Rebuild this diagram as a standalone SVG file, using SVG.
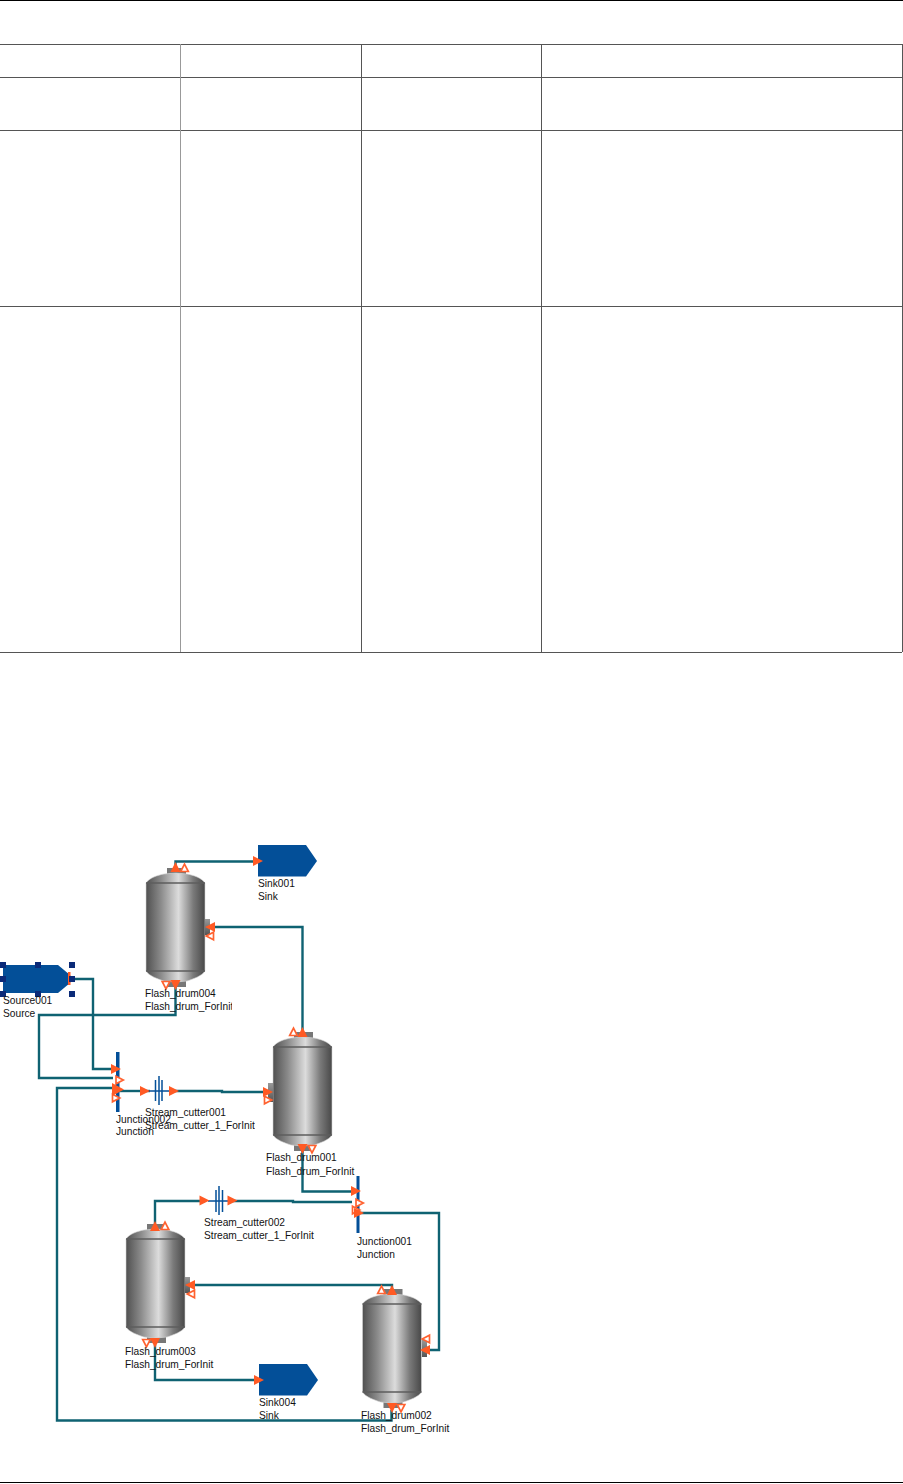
<svg xmlns="http://www.w3.org/2000/svg" width="903" height="1484" viewBox="0 0 903 1484">
<style>
.t{stroke:#555;stroke-width:1;fill:none;shape-rendering:crispEdges}
.c{fill:none;stroke:#0f6272;stroke-width:2.4;stroke-linejoin:miter}
.b{fill:#034f98}
.l{font-family:"Liberation Sans",Arial,sans-serif;font-size:10.2px;fill:#111}
.af{fill:#ff5a24;stroke:none}
.ah{fill:#fff;stroke:#ff6230;stroke-width:1.7}
.bar{fill:#034f98}
.cl{stroke:#034f98;stroke-width:1.5;fill:none}
.hd{fill:#0b2a78}
</style>
<defs>
<linearGradient id="g" x1="0" x2="1" y1="0" y2="0">
<stop offset="0" stop-color="#505050"/><stop offset=".25" stop-color="#8a8a8a"/><stop offset=".55" stop-color="#dcdcdc"/><stop offset=".8" stop-color="#7a7a7a"/><stop offset="1" stop-color="#484848"/>
</linearGradient>
<linearGradient id="gn" x1="0" x2="0" y1="0" y2="1">
<stop offset="0" stop-color="#999"/><stop offset="1" stop-color="#555"/>
</linearGradient>
<g id="drum">
<rect x="21" y="-5" width="19" height="6" fill="#777"/>
<rect x="21" y="108" width="19" height="6" fill="#777"/>
<path d="M0 10C3 5 12 2 18 1Q30 -1 41 1C47 2 56 5 59 10V98C56 103 47 106 41 108Q30 110 18 108C12 106 3 103 0 98Z" fill="url(#g)" stroke="#d5d5d5" stroke-width=".6"/>
<path d="M0 10H59M0 98H59" stroke="#5e5e5e" stroke-width="1.4"/>
</g>
<polygon id="af" class="af" points="-5,-5 5,0 -5,5"/>
<polygon id="ah" class="ah" points="-3.500,-3.800 3.800,0 -3.500,3.800"/>
<polygon id="sk" class="b" points="0,0 48,0 59,16 48,31.500 0,31.500"/>
<clipPath id="c1"><rect x="140" y="985" width="92" height="30"/></clipPath>
<clipPath id="c2"><rect x="140" y="1105" width="87" height="13"/></clipPath>
<clipPath id="c3"><rect x="140" y="1118" width="115" height="14"/></clipPath>
<clipPath id="c4"><rect x="200" y="1215" width="87" height="13"/></clipPath>
<clipPath id="c5"><rect x="200" y="1228" width="115" height="14"/></clipPath>
<clipPath id="c6"><rect x="355" y="1408" width="95" height="30"/></clipPath>
<clipPath id="c7"><rect x="120" y="1345" width="94" height="30"/></clipPath>
</defs>
<rect width="903" height="1484" fill="#fff"/>

<g id="table">
<path class="t" style="stroke:#000" d="M0 .5H903"/>
<path class="t" style="stroke:#000" d="M0 1482.500H903"/>
<path class="t" d="M0 44.500H902M0 77.500H902M0 130.500H902M0 306.500H902M0 652.500H902"/>
<path class="t" style="stroke:#999" d="M180.500 44V652"/>
<path class="t" d="M361.500 44V652"/>
<path class="t" d="M541.500 44V652"/>
<path class="t" d="M902.500 44V652"/>
</g>

<g id="connectors">
<path class="c" d="M175.500 868V861.500H258"/>
<path class="c" d="M302.500 1033V927H211"/>
<path class="c" d="M72 979H93V1069H113"/>
<path class="c" d="M175.500 985V1015H39V1078H113"/>
<path class="c" d="M391.500 1410V1420.500H57V1088H113"/>
<path class="c" d="M119 1091H150"/>
<path class="c" d="M172 1091H222V1092H268"/>
<path class="c" d="M302.500 1150V1191.500H352"/>
<path class="c" d="M155 1225V1201H205"/>
<path class="c" d="M228 1201H293V1202H352"/>
<path class="c" d="M360 1213H439V1350H425"/>
<path class="c" d="M392 1290V1285H190"/>
<path class="c" d="M155 1345V1380H260"/>
</g>

<g id="Flash_drum004">
<use href="#drum" x="146" y="873"/>
<rect x="205" y="919" width="5" height="16" fill="url(#gn)"/>
<use href="#af" transform="translate(175.500 867) rotate(-90)"/><use href="#ah" transform="translate(184.500 868) rotate(-90)"/>
<use href="#af" transform="translate(210 927) rotate(180)"/><use href="#ah" transform="translate(210 936) rotate(180)"/>
<use href="#ah" transform="translate(166 985) rotate(90)"/><use href="#af" transform="translate(175.500 985) rotate(90)"/>
<g clip-path="url(#c1)"><text class="l" x="145" y="997">Flash_drum004</text><text class="l" x="145" y="1010">Flash_drum_ForInit</text></g>
</g>

<g id="Flash_drum001">
<use href="#drum" x="273" y="1037"/>
<rect x="268" y="1083" width="5" height="19" fill="url(#gn)"/>
<use href="#ah" transform="translate(293.500 1032) rotate(-90)"/><use href="#af" transform="translate(302.500 1032) rotate(-90)"/>
<use href="#af" transform="translate(268 1092)"/><use href="#ah" transform="translate(268 1100)"/>
<use href="#af" transform="translate(302.500 1149) rotate(90)"/><use href="#ah" transform="translate(312 1149) rotate(90)"/>
<text class="l" x="266" y="1161">Flash_drum001</text><text class="l" x="266" y="1175">Flash_drum_ForInit</text>
</g>

<g id="Flash_drum003">
<use href="#drum" x="126" y="1229"/>
<rect x="185" y="1277" width="5" height="16" fill="url(#gn)"/>
<use href="#af" transform="translate(155 1226) rotate(-90)"/><use href="#ah" transform="translate(165 1226) rotate(-90)"/>
<use href="#af" transform="translate(190 1285) rotate(180)"/><use href="#ah" transform="translate(191 1294) rotate(180)"/>
<use href="#ah" transform="translate(146.500 1343) rotate(90)"/><use href="#af" transform="translate(155 1343) rotate(90)"/>
<g clip-path="url(#c7)"><text class="l" x="125" y="1355">Flash_drum003</text><text class="l" x="125" y="1368">Flash_drum_ForInit</text></g>
</g>

<g id="Flash_drum002">
<use href="#drum" x="362.500" y="1294"/>
<rect x="422" y="1340" width="5" height="17" fill="url(#gn)"/>
<use href="#ah" transform="translate(381.500 1290) rotate(-90)"/><use href="#af" transform="translate(392 1290) rotate(-90)"/>
<use href="#af" transform="translate(425 1350) rotate(180)"/><use href="#ah" transform="translate(426 1339) rotate(180)"/>
<use href="#af" transform="translate(392 1408) rotate(90)"/><use href="#ah" transform="translate(401 1408) rotate(90)"/>
<g clip-path="url(#c6)"><text class="l" x="361" y="1419">Flash_drum002</text><text class="l" x="361" y="1432">Flash_drum_ForInit</text></g>
</g>

<g id="Sink001">
<use href="#sk" x="258" y="845"/>
<use href="#af" transform="translate(258 861)"/>
<text class="l" x="258" y="887">Sink001</text><text class="l" x="258" y="900">Sink</text>
</g>

<g id="Sink004">
<use href="#sk" x="259" y="1364"/>
<use href="#af" transform="translate(259 1380)"/>
<text class="l" x="259" y="1406">Sink004</text><text class="l" x="259" y="1419">Sink</text>
</g>

<g id="Source001">
<polygon class="b" points="3,965 58,965 70,975 72,979 70,983 58,993 3,993"/>
<rect x="68" y="972" width="2.500" height="13" fill="#ff5a24"/>
<g class="hd"><rect x="0" y="962" width="6" height="6"/><rect x="35" y="962" width="6" height="6"/><rect x="69" y="962" width="6" height="6"/><rect x="0" y="976" width="6" height="6"/><rect x="69" y="976" width="6" height="6"/><rect x="0" y="991" width="6" height="6"/><rect x="35" y="991" width="6" height="6"/><rect x="69" y="991" width="6" height="6"/></g>
<text class="l" x="3" y="1004">Source001</text><text class="l" x="3" y="1017">Source</text>
</g>

<g id="Junction002">
<rect class="bar" x="116" y="1052" width="3.500" height="60"/>
<use href="#af" transform="translate(116 1069)"/>
<use href="#ah" transform="translate(119.500 1080)"/>
<use href="#ah" transform="translate(116 1098)"/>
<polygon class="af" points="112,1083 124,1089.500 112,1096"/>
<text class="l" x="116" y="1123">Junction002</text><text class="l" x="116" y="1135">Junction</text>
</g>

<g id="Stream_cutter001">
<path class="cl" d="M148 1091H169M155.500 1080V1101M162 1080V1101"/><path class="cl" d="M159 1076V1105"/>
<use href="#af" transform="translate(145 1091)"/><use href="#af" transform="translate(174 1091)"/>
<g clip-path="url(#c2)"><text class="l" x="145" y="1116">Stream_cutter001</text></g>
<g clip-path="url(#c3)"><text class="l" x="145" y="1129">Stream_cutter_1_ForInit</text></g>
</g>

<g id="Stream_cutter002">
<path class="cl" d="M208 1201H229M216 1190V1212M222.500 1190V1212"/><path class="cl" d="M219 1186V1215"/>
<use href="#af" transform="translate(204.500 1200.500)"/><use href="#af" transform="translate(232.500 1200.500)"/>
<g clip-path="url(#c4)"><text class="l" x="204" y="1226">Stream_cutter002</text></g>
<g clip-path="url(#c5)"><text class="l" x="204" y="1239">Stream_cutter_1_ForInit</text></g>
</g>

<g id="Junction001">
<rect class="bar" x="356.500" y="1176" width="3" height="57"/>
<use href="#af" transform="translate(356 1191)"/>
<use href="#ah" transform="translate(359.500 1203)"/>
<use href="#ah" transform="translate(356 1210)"/>
<use href="#af" transform="translate(359 1213)"/>
<text class="l" x="357" y="1245">Junction001</text><text class="l" x="357" y="1258">Junction</text>
</g>
</svg>
